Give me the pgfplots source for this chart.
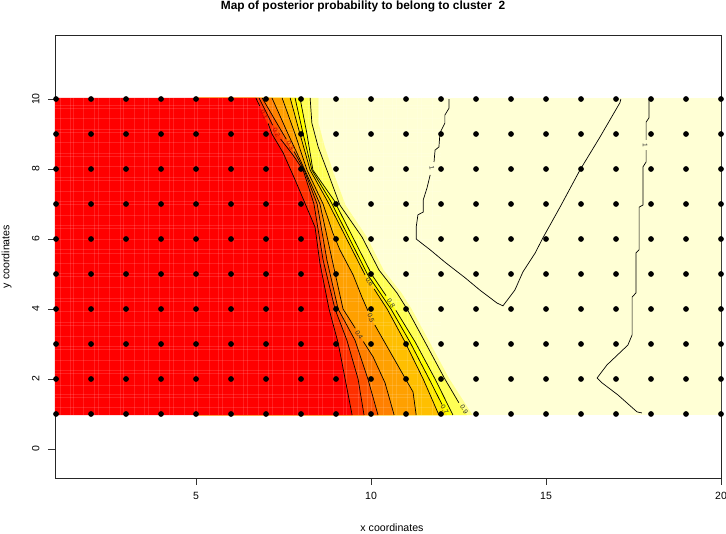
\documentclass[border=0pt]{standalone}
\usepackage{pgfplots}
\pgfplotsset{compat=1.18}
\usepackage{fontspec}
\setmainfont{Liberation Sans}
\definecolor{b0}{HTML}{FF0000}
\definecolor{b1}{HTML}{FF3000}
\definecolor{b2}{HTML}{FF5500}
\definecolor{b3}{HTML}{FF8000}
\definecolor{b4}{HTML}{FFA000}
\definecolor{b5}{HTML}{FFBF00}
\definecolor{b6}{HTML}{FFE800}
\definecolor{b7}{HTML}{FFFF00}
\definecolor{b8}{HTML}{FFFF55}
\definecolor{b9}{HTML}{FFFF90}
\definecolor{pale}{HTML}{FFFFD5}
\def\cA{(6.71,10.03)(7.17,9)(7.49,8.46)(7.83,7.69)(8.11,7.03)(8.40,6.34)(8.54,5.31)(8.80,4)(9.06,3.03)(9.26,2)(9.46,0.97)}
\def\cB{(6.80,10.03)(7.34,9)(7.77,8.40)(8.06,7.97)(8.37,7)(8.63,5.4)(8.97,4)(9.31,3.11)(9.63,2)(9.80,0.97)}
\def\cC{(6.89,10.03)(7.49,9)(8.09,7.97)(8.46,7)(8.74,5.4)(9.06,4)(9.54,3.11)(9.91,2)(10.2,0.97)}
\def\cD{(7.17,10.03)(7.63,9)(8.11,7.97)(8.54,7)(8.89,5.4)(9.2,4)(9.63,3.31)(10.06,2.63)(10.4,1.89)(10.66,0.97)}
\def\cE{(7.46,10.03)(7.83,9)(8.17,7.97)(8.63,7)(8.91,6.17)(9.11,5.69)(9.49,4.97)(9.74,4.34)(10,3.74)(10.11,3.54)(10.4,3.03)(10.89,2.17)(11.2,1.63)(11.29,0.97)}
\def\cF{(7.69,10.03)(7.97,9)(8.26,7.97)(8.74,7.11)(9.83,4.97)(10.46,4)(10.97,3.06)(11.49,2)(11.94,0.97)}
\def\cG{(7.83,10.03)(8.06,9)(8.31,7.97)(8.83,7.11)(9.91,4.97)(10.57,4)(11.11,3.06)(11.66,2)(12.17,0.97)}
\def\cH{(7.97,10.03)(8.17,9)(8.34,7.97)(8.94,7.11)(10.03,4.97)(10.69,4)(11.26,3.06)(11.83,2)(12.34,0.97)}
\def\cI{(8.26,10.03)(8.31,9.31)(8.49,8.63)(8.77,7.89)(9.11,6.97)(9.74,6.06)(10.23,5.11)(10.74,4.46)(11.03,4)(11.54,3.06)(12.11,2)(12.74,0.97)}
\def\cJ{(8.50,10.03)(8.50,9.31)(8.68,8.63)(8.93,7.89)(9.27,6.97)(9.88,6.06)(10.36,5.11)(10.87,4.46)(11.16,4)(11.67,3.06)(12.24,2)(12.9,0.97)}
% contour lines, with the gaps that their labels leave
\def\lA{(6.71,10.03)(6.82,9.8)(nan,nan)(7.06,9.3)(7.17,9)(7.49,8.46)(7.83,7.69)(8.11,7.03)(8.40,6.34)(8.54,5.31)(8.80,4)(9.06,3.03)(9.26,2)(9.46,0.97)}
\def\lB{(6.80,10.03)(7.19,9.25)(nan,nan)(7.42,8.85)(7.77,8.40)(8.06,7.97)(8.37,7)(8.63,5.4)(8.97,4)(9.31,3.11)(9.63,2)(9.80,0.97)}
\def\lC{(6.89,10.03)(7.49,9)(7.58,8.85)(nan,nan)(7.8,8.5)(8.09,7.97)(8.46,7)(8.74,5.4)(9.06,4)(9.54,3.11)(9.91,2)(10.2,0.97)}
\def\lD{(7.17,10.03)(7.63,9)(8.11,7.97)(8.54,7)(8.89,5.4)(9.2,4)(9.55,3.45)(nan,nan)(9.78,3.07)(10.06,2.63)(10.4,1.89)(10.66,0.97)}
\def\lE{(7.46,10.03)(7.83,9)(8.17,7.97)(8.63,7)(8.91,6.17)(9.11,5.69)(9.49,4.97)(9.74,4.34)(9.91,3.95)(nan,nan)(10.11,3.54)(10.4,3.03)(10.89,2.17)(11.2,1.63)(11.29,0.97)}
\def\lF{(7.69,10.03)(7.97,9)(8.26,7.97)(8.74,7.11)(9.83,4.97)(nan,nan)(10.09,4.57)(10.46,4)(10.97,3.06)(11.49,2)(11.94,0.97)}
\def\lG{(7.83,10.03)(8.06,9)(8.31,7.97)(8.83,7.11)(9.91,4.97)(10.57,4)(11.11,3.06)(11.66,2)(12.03,1.27)(nan,nan)(12.17,0.97)}
\def\lH{(7.97,10.03)(8.17,9)(8.34,7.97)(8.94,7.11)(10.03,4.97)(10.43,4.38)(nan,nan)(10.71,3.96)(11.26,3.06)(11.83,2)(12.34,0.97)}
\def\lI{(8.26,10.03)(8.31,9.31)(8.49,8.63)(8.77,7.89)(9.11,6.97)(9.74,6.06)(10.23,5.11)(10.74,4.46)(11.03,4)(11.54,3.06)(12.11,2)(12.51,1.32)}
\begin{document}
\begin{tikzpicture}[x=1pt,y=1pt]
\path[use as bounding box] (-55pt,-56pt) rectangle (671pt,478pt);
\begin{axis}[
  at={(0pt,0pt)},anchor=south west,
  scale only axis,width=666pt,height=443pt,
  xmin=0.97,xmax=20,ymin=-0.829,ymax=11.829,
  xtick={5,10,15,20},ytick={0,2,4,6,8,10},
  tick align=outside,tick pos=left,
  major tick length=7pt,
  axis line style={black!85,line width=0.6pt},
  every tick/.style={black!80,line width=0.6pt},
  /pgf/number format/assume math mode=true,
  tick label style={font=\fontsize{10.5}{12}\selectfont},
  yticklabel style={xshift=-5pt,rotate=90,anchor=south},
  xticklabel style={yshift=-4pt},
  title style={at={(axis description cs:0.5,1)},anchor=south,yshift=13pt,xshift=-25pt,font=\fontsize{11.9}{13}\selectfont\bfseries},
  title={Map of posterior probability to belong to cluster\ \ 2},
  xlabel={x coordinates},ylabel={y coordinates},
  label style={font=\fontsize{10.6}{12}\selectfont},
  xlabel style={at={(axis description cs:0.5,0)},anchor=north,yshift=-42pt,xshift=4pt},
  ylabel style={at={(axis description cs:0,0.5)},anchor=south,yshift=40pt,rotate=0},
  clip=true,
]
% fills: only the red one reaches the left edge of the box
\addplot[fill=pale,draw=none] coordinates {(5,0.97)(5,10.03)(20.5,10.03)(20.5,0.97)} --cycle;
\addplot[fill=b9,draw=none] coordinates {(5,0.97)(5,10.03)\cJ} --cycle;
\addplot[fill=b8,draw=none] coordinates {(5,0.97)(5,10.03)\cI} --cycle;
\addplot[fill=b7,draw=none] coordinates {(5,0.97)(5,10.03)\cH} --cycle;
\addplot[fill=b6,draw=none] coordinates {(5,0.97)(5,10.03)\cG} --cycle;
\addplot[fill=b5,draw=none] coordinates {(5,0.97)(5,10.03)\cF} --cycle;
\addplot[fill=b4,draw=none] coordinates {(5,0.97)(5,10.03)\cE} --cycle;
\addplot[fill=b3,draw=none] coordinates {(5,0.97)(5,10.03)\cD} --cycle;
\addplot[fill=b2,draw=none] coordinates {(5,0.97)(5,10.03)\cC} --cycle;
\addplot[fill=b1,draw=none] coordinates {(5,0.97)(5,10.03)\cB} --cycle;
\addplot[fill=b0,draw=none] coordinates {(0.5,0.97)(0.5,10.03)\cA} --cycle;
% faint seams in the raster image
\pgfplotsinvokeforeach{1.13,1.42,1.51,1.79,2.11,2.2,2.52,2.83,2.92,3.24,3.52,3.63,3.95,4.23,4.34,4.66,4.94,5.05,5.37,5.65,5.76,6.08,6.36,6.47,6.79,7.07,7.18,7.5,7.78,7.89,8.21,8.49,8.6,8.92,9.2,9.31,9.63,9.91,10.02,10.34,10.62,10.73,11.05,11.33,11.44,11.76}{
  \addplot[white,opacity=0.13,line width=0.8pt] coordinates {(#1,0.97)(#1,10.03)};
}
\pgfplotsinvokeforeach{1.2,1.46,1.55,1.83,2.16,2.25,2.54,2.85,2.94,3.23,3.53,3.62,3.92,4.22,4.31,4.61,4.92,5.01,5.31,5.6,5.69,5.99,6.29,6.38,6.68,6.98,7.07,7.37,7.67,7.76,8.06,8.36,8.45,8.75,9.05,9.14,9.44,9.74,9.83}{
  \addplot[white,opacity=0.13,line width=0.8pt] coordinates {(0.97,#1)(12,#1)};
}
% contours
\pgfplotsset{contour/.style={black,line width=0.7pt,unbounded coords=jump}}
\addplot[contour] coordinates {\lA};
\addplot[contour] coordinates {\lB};
\addplot[contour] coordinates {\lC};
\addplot[contour] coordinates {\lD};
\addplot[contour] coordinates {\lE};
\addplot[contour] coordinates {\lF};
\addplot[contour] coordinates {\lG};
\addplot[contour] coordinates {\lH};
\addplot[contour] coordinates {\lI};
\addplot[contour] coordinates {(12.23,10)(12.23,9.74)(12.11,9.54)(12.11,9.31)(11.97,9.03)(11.94,8.63)(11.83,8.54)(11.8,8.2)};
\addplot[contour] coordinates {(11.69,7.83)(11.6,7.46)(11.49,7.11)(11.49,6.77)(11.34,6.69)(11.29,6.34)(11.29,6)(11.69,5.69)(12.11,5.34)(12.69,4.89)(13.11,4.54)(13.6,4.17)(13.77,4.09)(14.11,4.54)(14.34,5.06)(14.69,5.6)(14.91,6.03)(15.4,6.91)(15.97,7.97)(16.54,8.91)(17.11,9.89)(17.14,10)};
\addplot[contour] coordinates {(17.94,10)(17.94,9.46)(17.86,9.34)(17.86,8.83)};
\addplot[contour] coordinates {(17.86,8.54)(17.86,8.2)(17.77,8.06)(17.77,6.97)(17.66,6.91)(17.66,5.69)(17.57,5.6)(17.57,4.46)(17.46,4.34)(17.46,3.26)(17.34,2.97)(16.74,2.4)(16.46,2.03)(16.6,1.89)(17.06,1.54)(17.6,1.06)(17.74,1.03)};
% contour labels
\tikzset{cl/.style={font=\fontsize{6.6}{7}\selectfont,inner sep=0pt,text=black!85}}
\node[cl,rotate=-60] at (axis cs:9.96,4.77) {0.6};
\node[cl,rotate=-58] at (axis cs:10.57,4.17) {0.8};
\node[cl,rotate=-70] at (axis cs:10,3.74) {0.5};
\node[cl,rotate=-60] at (axis cs:9.66,3.26) {0.4};
\node[cl,rotate=-60] at (axis cs:12.1,1.12) {0.7};
\node[cl,rotate=-60] at (axis cs:12.66,1.14) {0.9};
\node[cl,rotate=-62,text=b0!70!black] at (axis cs:6.95,9.55) {0.1};
\node[cl,rotate=-62,text=b0!70!black] at (axis cs:7.3,9.05) {0.2};
\node[cl,rotate=-62,text=b0!70!black] at (axis cs:7.69,8.68) {0.3};
\node[cl,rotate=-80] at (axis cs:11.74,8.02) {1};
\node[cl,rotate=-90] at (axis cs:17.83,8.68) {1};
% observation grid
\addplot[only marks,mark=*,mark size=2.6pt,mark options={black,fill=black}] coordinates {
(1,1)(2,1)(3,1)(4,1)(5,1)(6,1)(7,1)(8,1)(9,1)(10,1)(11,1)(12,1)(13,1)(14,1)(15,1)(16,1)(17,1)(18,1)(19,1)(20,1)
(1,2)(2,2)(3,2)(4,2)(5,2)(6,2)(7,2)(8,2)(9,2)(10,2)(11,2)(12,2)(13,2)(14,2)(15,2)(16,2)(17,2)(18,2)(19,2)(20,2)
(1,3)(2,3)(3,3)(4,3)(5,3)(6,3)(7,3)(8,3)(9,3)(10,3)(11,3)(12,3)(13,3)(14,3)(15,3)(16,3)(17,3)(18,3)(19,3)(20,3)
(1,4)(2,4)(3,4)(4,4)(5,4)(6,4)(7,4)(8,4)(9,4)(10,4)(11,4)(12,4)(13,4)(14,4)(15,4)(16,4)(17,4)(18,4)(19,4)(20,4)
(1,5)(2,5)(3,5)(4,5)(5,5)(6,5)(7,5)(8,5)(9,5)(10,5)(11,5)(12,5)(13,5)(14,5)(15,5)(16,5)(17,5)(18,5)(19,5)(20,5)
(1,6)(2,6)(3,6)(4,6)(5,6)(6,6)(7,6)(8,6)(9,6)(10,6)(11,6)(12,6)(13,6)(14,6)(15,6)(16,6)(17,6)(18,6)(19,6)(20,6)
(1,7)(2,7)(3,7)(4,7)(5,7)(6,7)(7,7)(8,7)(9,7)(10,7)(11,7)(12,7)(13,7)(14,7)(15,7)(16,7)(17,7)(18,7)(19,7)(20,7)
(1,8)(2,8)(3,8)(4,8)(5,8)(6,8)(7,8)(8,8)(9,8)(10,8)(11,8)(12,8)(13,8)(14,8)(15,8)(16,8)(17,8)(18,8)(19,8)(20,8)
(1,9)(2,9)(3,9)(4,9)(5,9)(6,9)(7,9)(8,9)(9,9)(10,9)(11,9)(12,9)(13,9)(14,9)(15,9)(16,9)(17,9)(18,9)(19,9)(20,9)
(1,10)(2,10)(3,10)(4,10)(5,10)(6,10)(7,10)(8,10)(9,10)(10,10)(11,10)(12,10)(13,10)(14,10)(15,10)(16,10)(17,10)(18,10)(19,10)(20,10)
};
\end{axis}
\end{tikzpicture}
\end{document}
